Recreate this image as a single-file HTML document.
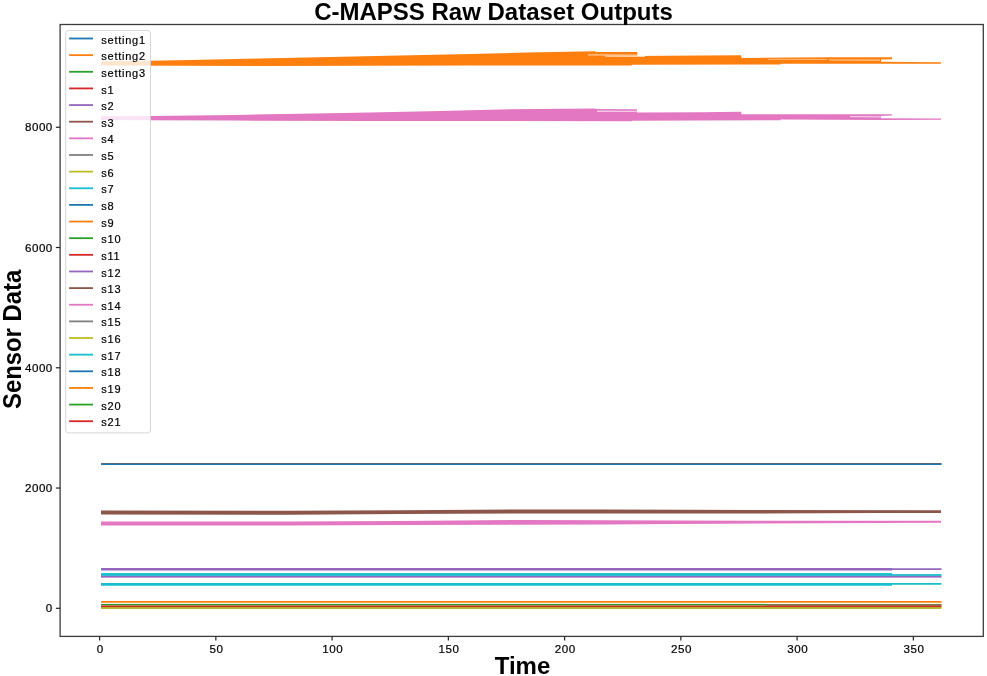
<!DOCTYPE html>
<html><head><meta charset="utf-8"><style>
html,body{margin:0;padding:0;background:#fff;width:987px;height:676px;overflow:hidden}
svg{display:block;filter:blur(0.35px)}
text{font-family:"Liberation Sans",sans-serif;fill:#000}
.lt{font-size:11px;letter-spacing:0.75px;stroke:#000;stroke-width:0.2px}
.tk{font-size:11.6px;letter-spacing:0.45px;stroke:#000;stroke-width:0.2px}
.tt{font-size:24px;font-weight:bold;fill:#000}
.yl{font-size:25.5px;font-weight:bold;fill:#000}
</style></head><body>
<svg width="987" height="676" viewBox="0 0 987 676">
<rect x="0" y="0" width="987" height="676" fill="#fff"/>
<polygon points="101,61.2 150,60.7 190,59.9 260,58.5 330,57.0 400,55.5 470,53.9 540,52.3 595,51.2 595.5,52.1 637,52.1 637.5,53.2 637,55.9 700,55.6 741,55.3 741.5,57.9 830,57.3 892,57.2 892,59.2 881,59.6 881,61.8 941,62.2 941,63.7 881,63.7 781,63.7 780.5,64.6 632,64.7 631.5,65.6 470,65.5 260,65.9 101,65.5" fill="#ff7f0e"/>
<g stroke="#fff" stroke-opacity="0.75" stroke-width="1.0" fill="none"><path d="M588 54.9 L640 55.2 M605 56.2 L645 56.4"/></g>
<g stroke="#fff" stroke-opacity="0.5" stroke-width="0.9" fill="none"><path d="M768 59.3 L827 59.5"/></g>
<g stroke="#fff" stroke-opacity="0.6" stroke-width="1.2" fill="none"><path d="M829 60.0 L880 60.2"/></g>
<polygon points="101,116.3 150,116.1 235,114.9 300,113.8 370,112.4 440,111.0 510,109.2 595,108.4 595.5,109.1 637,109.2 637,112.4 700,112.2 741,111.8 741.5,114.3 830,114.3 892,114.2 892,115.4 881,115.9 881,118.3 941,118.4 941,119.8 881,119.9 781,119.6 780.5,120.3 632,120.7 631.5,121.2 370,121.0 230,120.6 150,120.3 101,120.0" fill="#e377c2"/>
<g stroke="#fff" stroke-opacity="0.75" stroke-width="1.0" fill="none"><path d="M850 116.6 L881 116.9"/></g>
<path d="M597 111.3 L637 111.4" stroke="#fff" stroke-opacity="0.6" stroke-width="1.4"/>
<line x1="101" y1="463.7" x2="941.5" y2="463.7" stroke="#8c564b" stroke-width="1.3"/>
<line x1="101" y1="464.3" x2="941.5" y2="464.3" stroke="#1f77b4" stroke-width="1.6"/>
<polygon points="101,510.6 290,510.8 400,510.3 520,509.5 600,509.6 760,510.1 941,510.3 941,512.9 880,513.0 760,513.5 600,513.6 520,513.5 400,514.0 290,514.8 101,514.4" fill="#8c564b"/>
<polygon points="101,521.6 290,521.4 400,520.9 520,520.0 600,520.3 760,520.7 941,520.8 941,522.8 880,523.0 760,523.5 600,524.5 520,524.7 400,524.9 290,525.4 101,525.5" fill="#e377c2"/>
<line x1="101" y1="569.3" x2="892" y2="569.3" stroke="#9467bd" stroke-width="2.4"/>
<line x1="892" y1="569.1" x2="941.5" y2="569.1" stroke="#9467bd" stroke-width="1.7"/>
<rect x="101" y="573.1" width="791" height="2.8" fill="#17becf"/>
<rect x="892" y="574.1" width="49.5" height="1.8" fill="#17becf"/>
<rect x="101" y="575.9" width="840.5" height="1.7" fill="#9467bd"/>
<line x1="101" y1="584.4" x2="892" y2="584.4" stroke="#17becf" stroke-width="2.6"/>
<line x1="892" y1="583.9" x2="941.5" y2="583.9" stroke="#17becf" stroke-width="1.8"/>
<line x1="101" y1="601.9" x2="941.5" y2="601.9" stroke="#ff7f0e" stroke-width="1.8"/>
<rect x="101" y="603.9" width="666" height="1.6" fill="#2ca02c"/>
<rect x="767" y="604.1" width="174.5" height="1.6" fill="#5f6f2c"/>
<rect x="101" y="605.5" width="840.5" height="1.5" fill="#d62728"/>
<rect x="101" y="607.0" width="840.5" height="1.9" fill="#b4b022"/>
<rect x="65.7" y="30.5" width="84.8" height="402.4" rx="2.8" ry="2.8" fill="#fff" fill-opacity="0.8" stroke="#ccc" stroke-opacity="0.8" stroke-width="1"/>
<line x1="69.1" y1="38.50" x2="93.0" y2="38.50" stroke="#1f77b4" stroke-width="1.8"/>
<text x="101.3" y="43.60" class="lt">setting1</text>
<line x1="69.1" y1="55.14" x2="93.0" y2="55.14" stroke="#ff7f0e" stroke-width="1.8"/>
<text x="101.3" y="60.24" class="lt">setting2</text>
<line x1="69.1" y1="71.78" x2="93.0" y2="71.78" stroke="#2ca02c" stroke-width="1.8"/>
<text x="101.3" y="76.88" class="lt">setting3</text>
<line x1="69.1" y1="88.42" x2="93.0" y2="88.42" stroke="#d62728" stroke-width="1.8"/>
<text x="101.3" y="93.52" class="lt">s1</text>
<line x1="69.1" y1="105.06" x2="93.0" y2="105.06" stroke="#9467bd" stroke-width="1.8"/>
<text x="101.3" y="110.16" class="lt">s2</text>
<line x1="69.1" y1="121.70" x2="93.0" y2="121.70" stroke="#8c564b" stroke-width="1.8"/>
<text x="101.3" y="126.80" class="lt">s3</text>
<line x1="69.1" y1="138.34" x2="93.0" y2="138.34" stroke="#e377c2" stroke-width="1.8"/>
<text x="101.3" y="143.44" class="lt">s4</text>
<line x1="69.1" y1="154.98" x2="93.0" y2="154.98" stroke="#7f7f7f" stroke-width="1.8"/>
<text x="101.3" y="160.08" class="lt">s5</text>
<line x1="69.1" y1="171.62" x2="93.0" y2="171.62" stroke="#bcbd22" stroke-width="1.8"/>
<text x="101.3" y="176.72" class="lt">s6</text>
<line x1="69.1" y1="188.26" x2="93.0" y2="188.26" stroke="#17becf" stroke-width="1.8"/>
<text x="101.3" y="193.36" class="lt">s7</text>
<line x1="69.1" y1="204.90" x2="93.0" y2="204.90" stroke="#1f77b4" stroke-width="1.8"/>
<text x="101.3" y="210.00" class="lt">s8</text>
<line x1="69.1" y1="221.54" x2="93.0" y2="221.54" stroke="#ff7f0e" stroke-width="1.8"/>
<text x="101.3" y="226.64" class="lt">s9</text>
<line x1="69.1" y1="238.18" x2="93.0" y2="238.18" stroke="#2ca02c" stroke-width="1.8"/>
<text x="101.3" y="243.28" class="lt">s10</text>
<line x1="69.1" y1="254.82" x2="93.0" y2="254.82" stroke="#d62728" stroke-width="1.8"/>
<text x="101.3" y="259.92" class="lt">s11</text>
<line x1="69.1" y1="271.46" x2="93.0" y2="271.46" stroke="#9467bd" stroke-width="1.8"/>
<text x="101.3" y="276.56" class="lt">s12</text>
<line x1="69.1" y1="288.10" x2="93.0" y2="288.10" stroke="#8c564b" stroke-width="1.8"/>
<text x="101.3" y="293.20" class="lt">s13</text>
<line x1="69.1" y1="304.74" x2="93.0" y2="304.74" stroke="#e377c2" stroke-width="1.8"/>
<text x="101.3" y="309.84" class="lt">s14</text>
<line x1="69.1" y1="321.38" x2="93.0" y2="321.38" stroke="#7f7f7f" stroke-width="1.8"/>
<text x="101.3" y="326.48" class="lt">s15</text>
<line x1="69.1" y1="338.02" x2="93.0" y2="338.02" stroke="#bcbd22" stroke-width="1.8"/>
<text x="101.3" y="343.12" class="lt">s16</text>
<line x1="69.1" y1="354.66" x2="93.0" y2="354.66" stroke="#17becf" stroke-width="1.8"/>
<text x="101.3" y="359.76" class="lt">s17</text>
<line x1="69.1" y1="371.30" x2="93.0" y2="371.30" stroke="#1f77b4" stroke-width="1.8"/>
<text x="101.3" y="376.40" class="lt">s18</text>
<line x1="69.1" y1="387.94" x2="93.0" y2="387.94" stroke="#ff7f0e" stroke-width="1.8"/>
<text x="101.3" y="393.04" class="lt">s19</text>
<line x1="69.1" y1="404.58" x2="93.0" y2="404.58" stroke="#2ca02c" stroke-width="1.8"/>
<text x="101.3" y="409.68" class="lt">s20</text>
<line x1="69.1" y1="421.22" x2="93.0" y2="421.22" stroke="#d62728" stroke-width="1.8"/>
<text x="101.3" y="426.32" class="lt">s21</text>
<rect x="60.1" y="24.5" width="923.2" height="611.9" fill="none" stroke="#3c3c3c" stroke-width="1.3"/>
<line x1="99.60" y1="636.4" x2="99.60" y2="640.4" stroke="#222" stroke-width="1.2"/>
<text x="100.20" y="652.8" class="tk" text-anchor="middle">0</text>
<line x1="215.85" y1="636.4" x2="215.85" y2="640.4" stroke="#222" stroke-width="1.2"/>
<text x="216.45" y="652.8" class="tk" text-anchor="middle">50</text>
<line x1="332.10" y1="636.4" x2="332.10" y2="640.4" stroke="#222" stroke-width="1.2"/>
<text x="332.70" y="652.8" class="tk" text-anchor="middle">100</text>
<line x1="448.35" y1="636.4" x2="448.35" y2="640.4" stroke="#222" stroke-width="1.2"/>
<text x="448.95" y="652.8" class="tk" text-anchor="middle">150</text>
<line x1="564.60" y1="636.4" x2="564.60" y2="640.4" stroke="#222" stroke-width="1.2"/>
<text x="565.20" y="652.8" class="tk" text-anchor="middle">200</text>
<line x1="680.85" y1="636.4" x2="680.85" y2="640.4" stroke="#222" stroke-width="1.2"/>
<text x="681.45" y="652.8" class="tk" text-anchor="middle">250</text>
<line x1="797.10" y1="636.4" x2="797.10" y2="640.4" stroke="#222" stroke-width="1.2"/>
<text x="797.70" y="652.8" class="tk" text-anchor="middle">300</text>
<line x1="913.35" y1="636.4" x2="913.35" y2="640.4" stroke="#222" stroke-width="1.2"/>
<text x="913.95" y="652.8" class="tk" text-anchor="middle">350</text>
<line x1="55.9" y1="608.30" x2="60.1" y2="608.30" stroke="#222" stroke-width="1.2"/>
<text x="52.7" y="612.40" class="tk" text-anchor="end">0</text>
<line x1="55.9" y1="488.04" x2="60.1" y2="488.04" stroke="#222" stroke-width="1.2"/>
<text x="52.7" y="492.14" class="tk" text-anchor="end">2000</text>
<line x1="55.9" y1="367.78" x2="60.1" y2="367.78" stroke="#222" stroke-width="1.2"/>
<text x="52.7" y="371.88" class="tk" text-anchor="end">4000</text>
<line x1="55.9" y1="247.52" x2="60.1" y2="247.52" stroke="#222" stroke-width="1.2"/>
<text x="52.7" y="251.62" class="tk" text-anchor="end">6000</text>
<line x1="55.9" y1="127.26" x2="60.1" y2="127.26" stroke="#222" stroke-width="1.2"/>
<text x="52.7" y="131.36" class="tk" text-anchor="end">8000</text>
<text x="493.5" y="20.1" class="tt" text-anchor="middle">C-MAPSS Raw Dataset Outputs</text>
<text x="522.5" y="673.7" class="tt" text-anchor="middle">Time</text>
<text transform="translate(21.1 339.4) rotate(-90) scale(0.935 1)" x="0" y="0" class="yl" text-anchor="middle">Sensor Data</text>
</svg>
</body></html>
